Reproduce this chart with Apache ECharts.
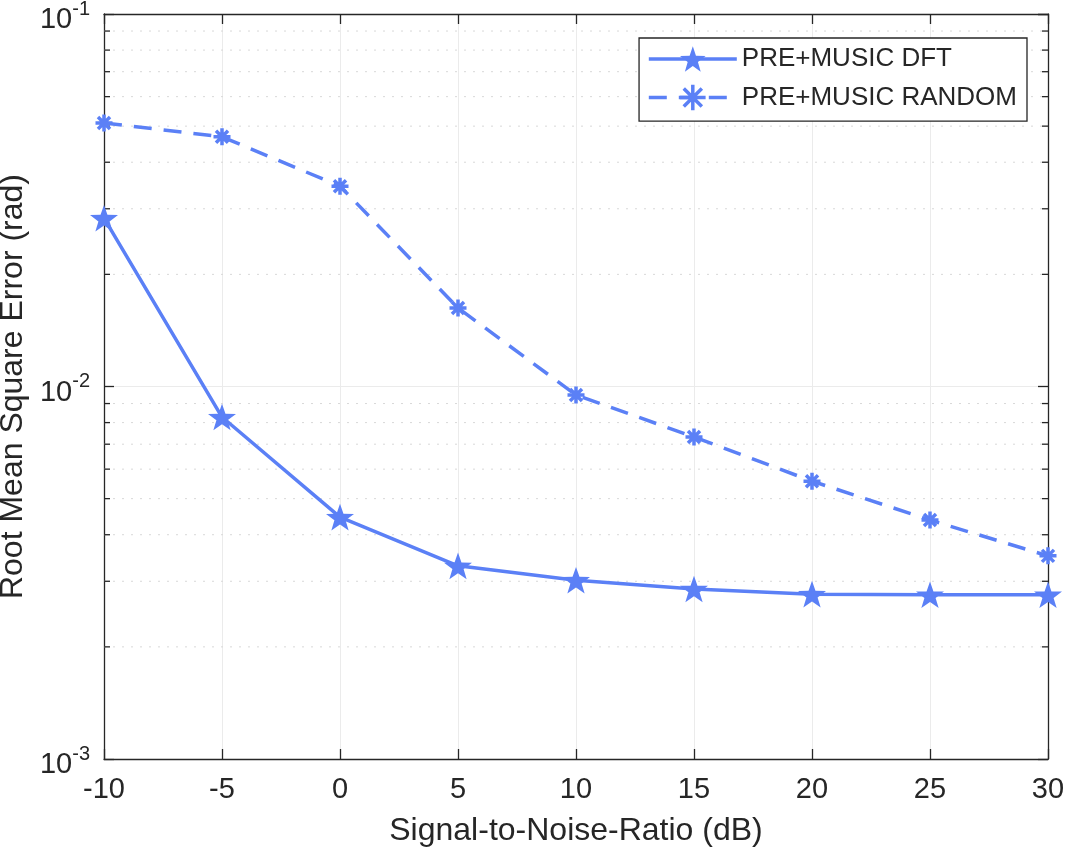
<!DOCTYPE html>
<html><head><meta charset="utf-8">
<script src="https://cdn.jsdelivr.net/npm/echarts@6/dist/echarts.min.js"></script>
<style>html,body{margin:0;padding:0;background:#fff}#c{width:1065px;height:849px}</style>
</head><body><div id="c"></div>
<script>
const snr = [-10, -5, 0, 5, 10, 15, 20, 25, 30];
const rmseDFT = [0.0283, 0.00828, 0.00446, 0.0033, 0.00302, 0.00286, 0.00277, 0.00276, 0.00276];
const rmseRandom = [0.0510, 0.0468, 0.0345, 0.01625, 0.00949, 0.00732, 0.00557, 0.00438, 0.00351];
const minorTickValues = [0.002,0.003,0.004,0.005,0.006,0.007,0.008,0.009,0.02,0.03,0.04,0.05,0.06,0.07,0.08,0.09];
const seriesNames = ['PRE+MUSIC DFT', 'PRE+MUSIC RANDOM'];

const color = '#5b80f6';
const axisColor = '#262626';
const font = "'Liberation Sans', Arial, Helvetica, sans-serif";
const starPath = 'path://M0,-10L2.35,-3.24L9.51,-3.09L3.8,1.24L5.88,8.09L0,4L-5.88,8.09L-3.8,1.24L-9.51,-3.09L-2.35,-3.24Z';
const asteriskPath = 'path://M0,-10L0,10M-10,0L10,0M-7.07,-7.07L7.07,7.07M-7.07,7.07L7.07,-7.07';

const xMin = snr[0], xMax = snr[snr.length - 1];

function logLabel(v) {
  const e = Math.round(Math.log10(v));
  return '{b|10}{s|' + e + '}';
}

const dftLine = {color: color, width: 3.5};
const dftItem = {color: color};
const rndLine = {color: color, width: 3.5, type: [18, 12]};
const rndItem = {color: color, borderColor: color, borderWidth: 3.5};

const chart = echarts.init(document.getElementById('c'), null, {renderer: 'canvas'});
chart.setOption({
  backgroundColor: '#fff',
  animation: false,
  textStyle: {fontFamily: font},
  grid: {left: 104, right: 17, top: 14, bottom: 90, containLabel: false, outerBoundsMode: 'none'},
  legend: {
    right: 38, top: 38, orient: 'vertical',
    backgroundColor: '#fff', borderColor: axisColor, borderWidth: 1.3,
    padding: [8, 10, 9, 8], itemGap: 11,
    itemWidth: 88, itemHeight: 32,
    textStyle: {fontSize: 26, color: axisColor, fontFamily: font},
    data: [
      {name: seriesNames[0], lineStyle: dftLine, itemStyle: dftItem},
      {name: seriesNames[1], lineStyle: rndLine, itemStyle: rndItem}
    ]
  },
  xAxis: [{
    type: 'value', min: xMin, max: xMax, interval: 5,
    axisLine: {show: true, onZero: false, lineStyle: {color: axisColor, width: 1.3}},
    axisTick: {inside: true, length: 10, lineStyle: {color: axisColor, width: 1.3}},
    axisLabel: {fontSize: 29, color: axisColor, margin: 16, fontFamily: font},
    splitLine: {show: true, lineStyle: {color: '#ebebeb', width: 1}},
    name: 'Signal-to-Noise-Ratio (dB)', nameLocation: 'middle', nameGap: 56,
    nameTextStyle: {fontSize: 32, color: axisColor, fontFamily: font}
  }, {
    type: 'value', min: xMin, max: xMax, interval: 5, position: 'top',
    axisLine: {show: true, onZero: false, lineStyle: {color: axisColor, width: 1.3}},
    axisTick: {inside: true, length: 10, lineStyle: {color: axisColor, width: 1.3}},
    axisLabel: {show: false}, splitLine: {show: false}
  }],
  yAxis: [{
    type: 'log', logBase: 10, min: 0.001, max: 0.1,
    axisLine: {show: true, onZero: false, lineStyle: {color: axisColor, width: 1.3}},
    axisTick: {inside: true, length: 10, lineStyle: {color: axisColor, width: 1.3}},
    axisLabel: {
      color: axisColor, margin: 14, fontFamily: font,
      formatter: logLabel,
      rich: {b: {fontSize: 29, color: axisColor, fontFamily: font, padding: [12, 0, 0, 0]},
             s: {fontSize: 20, color: axisColor, fontFamily: font, padding: [0, 0, 10, 0]}}
    },
    splitLine: {show: true, lineStyle: {color: '#ebebeb', width: 1}},
    name: 'Root Mean Square Error (rad)', nameLocation: 'middle', nameGap: 72,
    nameTextStyle: {fontSize: 32, color: axisColor, fontFamily: font}
  }, {
    type: 'log', logBase: 10, min: 0.001, max: 0.1, position: 'right',
    axisLine: {show: true, onZero: false, lineStyle: {color: axisColor, width: 1.3}},
    axisTick: {inside: true, length: 10, lineStyle: {color: axisColor, width: 1.3}},
    axisLabel: {show: false}, splitLine: {show: false}
  }],
  series: [{
    type: 'custom', silent: true, z: 1,
    data: minorTickValues.map(v => [xMin, v]),
    renderItem: function (params, api) {
      const v = api.value(1);
      const p0 = api.coord([xMin, v]);
      const p1 = api.coord([xMax, v]);
      return {type: 'group', children: [
        {type: 'line', shape: {x1: p0[0], y1: p0[1], x2: p1[0], y2: p1[1]},
         style: {stroke: '#d8d8d8', lineWidth: 1, lineDash: [2, 7]}},
        {type: 'line', shape: {x1: p0[0], y1: p0[1], x2: p0[0] + 6, y2: p0[1]},
         style: {stroke: axisColor, lineWidth: 1.3}},
        {type: 'line', shape: {x1: p1[0], y1: p1[1], x2: p1[0] - 6, y2: p1[1]},
         style: {stroke: axisColor, lineWidth: 1.3}}
      ]};
    }
  }, {
    name: seriesNames[0], type: 'line', z: 5,
    data: snr.map((x, i) => [x, rmseDFT[i]]),
    lineStyle: dftLine,
    itemStyle: dftItem,
    symbol: starPath, symbolSize: 28, symbolKeepAspect: true, showAllSymbol: true
  }, {
    name: seriesNames[1], type: 'line', z: 5,
    data: snr.map((x, i) => [x, rmseRandom[i]]),
    lineStyle: rndLine,
    itemStyle: rndItem,
    symbol: asteriskPath, symbolSize: 17, symbolKeepAspect: true, showAllSymbol: true
  }]
});
</script></body></html>
